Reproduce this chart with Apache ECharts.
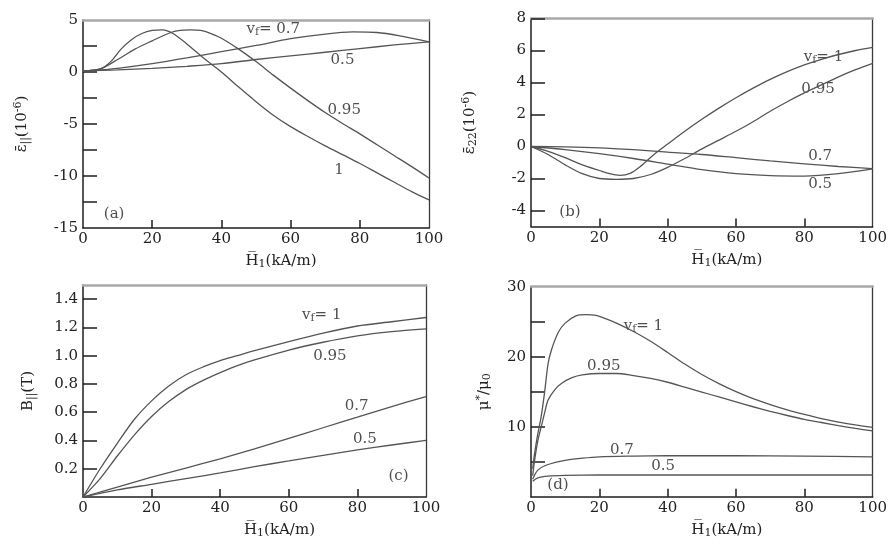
<!DOCTYPE html>
<html><head><meta charset="utf-8">
<script src="https://cdn.jsdelivr.net/npm/echarts@6/dist/echarts.min.js"></script>
<style>html,body{margin:0;padding:0;background:#fff}#c{width:890px;height:543px}</style>
</head><body><div id="c"></div>
<script>
// ---------- data (x = H1 in kA/m) ----------
const xTickLabels = [0, 20, 40, 60, 80, 100];
// (a) strain eps_|| (1e-6)
const a_vf1   = [[0,0.1],[5,0.3],[8,1.0],[11,2.2],[14,3.1],[17,3.7],[20,4.0],[23,4.05],[26,3.7],[30,2.7],[35,1.3],[40,0.0],[45,-1.45],[50,-2.85],[55,-4.15],[60,-5.25],[65,-6.2],[70,-7.1],[75,-7.95],[80,-8.8],[85,-9.7],[90,-10.6],[95,-11.5],[100,-12.3]];
const a_vf095 = [[0,0.1],[5,0.3],[10,1.2],[15,2.2],[20,3.0],[25,3.75],[28,4.0],[31,4.05],[34,4.0],[37,3.7],[40,3.25],[45,2.2],[50,1.0],[55,-0.3],[60,-1.55],[65,-2.75],[70,-3.9],[75,-4.95],[80,-5.95],[85,-7.0],[90,-8.05],[95,-9.1],[100,-10.2]];
const a_vf07  = [[0,0.1],[5,0.2],[10,0.35],[20,0.8],[30,1.35],[40,1.95],[50,2.55],[60,3.2],[70,3.65],[78,3.85],[85,3.8],[92,3.45],[100,2.9]];
const a_vf05  = [[0,0.1],[10,0.2],[20,0.35],[30,0.55],[40,0.8],[50,1.2],[60,1.55],[70,1.9],[80,2.25],[90,2.6],[100,2.9]];
const a_yLabels = [-15, -10, -5, 0, 5];
const a_yTicks = [-12.5, -10, -7.5, -5, -2.5, 0, 2.5];
// (b) strain eps_22 (1e-6)
const b_vf1   = [[0,0],[5,-0.3],[10,-0.7],[15,-1.15],[20,-1.5],[23,-1.7],[26,-1.8],[29,-1.68],[32,-1.25],[36,-0.5],[40,0.15],[45,0.95],[50,1.7],[55,2.4],[60,3.05],[65,3.65],[70,4.2],[75,4.68],[80,5.1],[85,5.45],[90,5.75],[95,6.0],[100,6.2]];
const b_vf095 = [[0,0],[5,-0.5],[10,-1.15],[15,-1.7],[20,-2.0],[25,-2.05],[30,-2.0],[35,-1.75],[40,-1.3],[45,-0.75],[50,-0.15],[55,0.4],[60,0.95],[65,1.55],[70,2.2],[75,2.8],[80,3.35],[85,3.85],[90,4.35],[95,4.8],[100,5.2]];
const b_vf07  = [[0,0],[10,-0.02],[20,-0.08],[30,-0.2],[40,-0.35],[50,-0.5],[60,-0.7],[70,-0.9],[80,-1.08],[90,-1.25],[100,-1.38]];
const b_vf05  = [[0,0],[10,-0.2],[20,-0.45],[30,-0.75],[40,-1.1],[50,-1.45],[60,-1.7],[70,-1.82],[80,-1.85],[90,-1.7],[100,-1.4]];
const b_yLabels = [-4, -2, 0, 2, 4, 6, 8];
// (c) induction B_|| (T)
const c_vf1   = [[0,0],[5,0.2],[10,0.38],[15,0.55],[20,0.68],[25,0.785],[30,0.865],[35,0.92],[40,0.965],[45,1.0],[50,1.035],[60,1.1],[70,1.16],[80,1.21],[90,1.24],[100,1.27]];
const c_vf095 = [[0,0],[5,0.13],[10,0.29],[15,0.44],[20,0.57],[25,0.675],[30,0.76],[35,0.825],[40,0.88],[45,0.93],[50,0.97],[60,1.04],[70,1.095],[80,1.14],[90,1.17],[100,1.19]];
const c_vf07  = [[0,0],[10,0.07],[20,0.14],[30,0.205],[40,0.27],[50,0.34],[60,0.415],[70,0.49],[80,0.565],[90,0.64],[100,0.71]];
const c_vf05  = [[0,0],[10,0.05],[20,0.09],[30,0.13],[40,0.17],[50,0.215],[60,0.255],[70,0.295],[80,0.333],[90,0.368],[100,0.4]];
const c_yLabels = [0.2, 0.4, 0.6, 0.8, 1.0, 1.2, 1.4];
// (d) relative permeability mu*/mu0
const d_vf1   = [[0.5,4],[1,6],[2,9],[3,11.5],[4,15],[5,19],[6,21],[8,23.5],[10,24.8],[13,25.8],[16,26],[19,25.9],[22,25.4],[25,24.8],[30,23.6],[35,22.2],[40,20.6],[45,18.95],[50,17.45],[55,16.15],[60,15.0],[65,14.0],[70,13.15],[75,12.4],[80,11.75],[85,11.15],[90,10.65],[95,10.25],[100,9.9]];
const d_vf095 = [[0.5,3],[1,5],[2,8],[3,10],[4,12],[5,13.8],[7,15.3],[9,16.2],[12,17],[15,17.4],[20,17.6],[25,17.6],[30,17.3],[35,16.9],[40,16.35],[45,15.65],[50,14.95],[55,14.25],[60,13.55],[65,12.85],[70,12.2],[75,11.6],[80,11.05],[85,10.6],[90,10.15],[95,9.75],[100,9.4]];
const d_vf07  = [[0.5,2.5],[2,3.8],[5,4.6],[10,5.2],[15,5.5],[20,5.7],[30,5.8],[40,5.85],[60,5.85],[80,5.8],[100,5.7]];
const d_vf05  = [[0.5,2.2],[2,2.7],[5,2.95],[10,3.05],[20,3.1],[40,3.1],[60,3.1],[80,3.1],[100,3.1]];
const d_yLabels = [10, 20, 30];
const d_yTicks = [5, 10, 15, 20, 25];
// curve annotations [x, y, text]
const a_notes = [[55,4.1,'{a|v}{s|f}{a|= 0.7}'],[75,1.1,'0.5'],[75.5,-3.7,'0.95'],[74,-9.4,'1'],[9,-13.7,'(a)']];
const b_notes = [[85.6,5.6,'{a|v}{s|f}{a|= 1}'],[84,3.6,'0.95'],[84.6,-0.58,'0.7'],[84.6,-2.37,'0.5'],[11.4,-4.1,'(b)']];
const c_notes = [[69.6,1.29,'{a|v}{s|f}{a|= 1}'],[72,1.0,'0.95'],[79.8,0.64,'0.7'],[82.2,0.41,'0.5'],[92,0.15,'(c)']];
const d_notes = [[32.9,24.4,'{a|v}{s|f}{a|= 1}'],[21.3,18.7,'0.95'],[26.6,6.7,'0.7'],[38.7,4.35,'0.5'],[7.9,1.6,'(d)']];

// ---------- styling ----------
const FONT = 'DejaVu Serif';
const TXT = '#222222';
const LINE = '#555555';
const grids = [
  {left: 83, right: 461, top: 20, bottom: 315},
  {left: 531, right: 17, top: 18.5, bottom: 316.5},
  {left: 83, right: 464, top: 285, bottom: 46},
  {left: 531, right: 12, top: 286.7, bottom: 46.3}
];
const panels = [
  {series: [a_vf1, a_vf095, a_vf07, a_vf05], min: -15, max: 5, labels: a_yLabels, ticks: a_yTicks, notes: a_notes,
   name: '{a|ε\u0304}{s|||}{a|(10}{p|-6}{a|)}', gap: 52, dec: 0},
  {series: [b_vf1, b_vf095, b_vf07, b_vf05], min: -5, max: 8, labels: b_yLabels, ticks: b_yLabels, notes: b_notes,
   name: '{a|ε\u0304}{s|22}{a|(10}{p|-6}{a|)}', gap: 52, dec: 0},
  {series: [c_vf1, c_vf095, c_vf07, c_vf05], min: 0, max: 1.5, labels: c_yLabels, ticks: c_yLabels, notes: c_notes,
   name: '{a|B}{s|||}{a|(T)}', gap: 46, dec: 1},
  {series: [d_vf1, d_vf095, d_vf07, d_vf05], min: 0, max: 30, labels: d_yLabels, ticks: d_yTicks, notes: d_notes,
   name: '{a|μ}{p|*}{a|/μ}{s|0}', gap: 38, dec: 0}
];
const rich = {
  a: {fontFamily: FONT, fontSize: 15, color: TXT},
  s: {fontFamily: FONT, fontSize: 11, color: TXT, verticalAlign: 'bottom', padding: [6,0,0,0]},
  p: {fontFamily: FONT, fontSize: 11, color: TXT, padding: [0,0,7,0]}
};

const xAxis = [], yAxis = [], series = [];
panels.forEach((p, i) => {
  xAxis.push({
    type: 'value', gridIndex: i, min: 0, max: 100,
    name: '{a|H\u0305}{s|1}{a|(kA/m)}', nameLocation: 'middle', nameGap: 25,
    nameTextStyle: {rich: rich, padding: [0,0,0,50]},
    axisLine: {show: true, onZero: false, lineStyle: {color: '#1e1e1e', width: 1.5}},
    axisTick: {show: true, inside: true, length: 8, customValues: [20,40,60,80], lineStyle: {color: '#1e1e1e', width: 1.5}},
    axisLabel: {customValues: xTickLabels, fontFamily: FONT, fontSize: 15, color: TXT, margin: 4},
    splitLine: {show: false}
  });
  xAxis.push({
    type: 'value', gridIndex: i, min: 0, max: 100, position: 'top',
    axisLine: {show: true, onZero: false, lineStyle: {color: '#a8a8a8', width: 2.5}},
    axisTick: {show: false}, axisLabel: {show: false}, splitLine: {show: false}
  });
  yAxis.push({
    type: 'value', gridIndex: i, min: p.min, max: p.max,
    name: p.name, nameLocation: 'middle', nameGap: p.gap, nameRotate: 90,
    nameTextStyle: {rich: rich},
    axisLine: {show: true, onZero: false, lineStyle: {color: '#1e1e1e', width: 1.5}},
    axisTick: {show: true, inside: true, length: 14, customValues: p.ticks, lineStyle: {color: '#1e1e1e', width: 1.5}},
    axisLabel: {customValues: p.labels, fontFamily: FONT, fontSize: 15, color: TXT, margin: 5,
      formatter: (v) => Number(v).toFixed(p.dec)},
    splitLine: {show: false}
  });
  yAxis.push({
    type: 'value', gridIndex: i, min: p.min, max: p.max, position: 'right',
    axisLine: {show: true, onZero: false, lineStyle: {color: '#3a3a3a', width: 1.3}},
    axisTick: {show: false}, axisLabel: {show: false}, splitLine: {show: false}
  });
  p.series.forEach(d => {
    series.push({
      type: 'line', xAxisIndex: 2*i, yAxisIndex: 2*i, data: d, smooth: 0.3,
      showSymbol: false, symbol: 'none', lineStyle: {color: LINE, width: 1.3}, silent: true
    });
  });
  series.push({
    type: 'scatter', xAxisIndex: 2*i, yAxisIndex: 2*i, symbolSize: 0, silent: true,
    data: p.notes.map(n => ({value: [n[0], n[1]], label: {formatter: n[2]}})),
    label: {show: true, position: 'inside', fontFamily: FONT, fontSize: 15, color: TXT, rich: rich}
  });
});

const chart = echarts.init(document.getElementById('c'), null, {renderer: 'canvas'});
chart.setOption({
  backgroundColor: '#ffffff',
  animation: false,
  grid: grids,
  xAxis: xAxis,
  yAxis: yAxis,
  series: series
});
</script>
</body></html>
